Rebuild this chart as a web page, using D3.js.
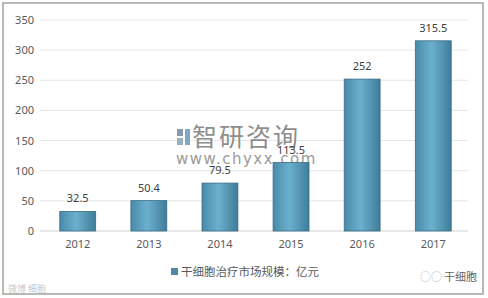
<!DOCTYPE html>
<html><head><meta charset="utf-8">
<script src="https://cdn.jsdelivr.net/npm/d3@7"></script>
<style>
body{margin:0;background:#fff;}
svg{display:block;font-family:"Noto Sans CJK SC","DejaVu Sans",sans-serif;}
</style></head>
<body>
<svg id="c" width="488" height="298"></svg>
<script>
const years = ["2012","2013","2014","2015","2016","2017"];
const values = [32.5, 50.4, 79.5, 113.5, 252, 315.5];
const valueLabels = ["32.5","50.4","79.5","113.5","252","315.5"];
const yTicks = [0,50,100,150,200,250,300,350];
const legendLabel = "干细胞治疗市场规模：亿元";

const svg = d3.select("#c");
const defs = svg.append("defs");
const g1 = defs.append("linearGradient").attr("id","bar").attr("x1","0").attr("x2","1").attr("y1","0").attr("y2","0");
g1.append("stop").attr("offset","0").attr("stop-color","#4a8aa8");
g1.append("stop").attr("offset","0.45").attr("stop-color","#6bb0cf");
g1.append("stop").attr("offset","1").attr("stop-color","#3f7d99");

// outer frame
svg.append("rect").attr("x",3).attr("y",3).attr("width",480).attr("height",291)
  .attr("fill","#fff").attr("stroke","#b8b8b8").attr("stroke-width",2);

const x = d3.scaleBand().domain(years).range([42,469]).paddingInner(0.495).paddingOuter(0.25);
const y = d3.scaleLinear().domain([0,350]).range([231,20]);

// gridlines
svg.append("g").selectAll("line").data(yTicks).join("line")
  .attr("x1",40).attr("x2",468)
  .attr("y1",d=>y(d)).attr("y2",d=>y(d))
  .attr("stroke",d=>d===0?"#d0d0d0":"#e6e6e6").attr("stroke-width",1);

// y axis
const ya = svg.append("g").attr("transform","translate(34,0)")
  .call(d3.axisLeft(y).tickValues(yTicks).tickSize(0).tickPadding(0));
ya.select(".domain").remove();
ya.selectAll("text").attr("font-size",11).attr("fill","#595959").attr("font-family","'Noto Sans',sans-serif");

// x axis
const xa = svg.append("g").attr("transform","translate(0,238)")
  .call(d3.axisBottom(x).tickSize(0).tickPadding(2));
xa.select(".domain").remove();
xa.selectAll("text").attr("font-size",11).attr("fill","#595959").attr("font-family","'Noto Sans',sans-serif");

// watermark (behind labels)
const wm = svg.append("g");
wm.append("rect").attr("x",177).attr("y",129).attr("width",6).attr("height",7).attr("fill","#8a9aa6");
wm.append("rect").attr("x",177).attr("y",138).attr("width",6).attr("height",7).attr("fill","#9ab0c0");
wm.append("rect").attr("x",185).attr("y",129).attr("width",5).attr("height",16).attr("fill","#7fa8c4");
wm.append("text").attr("x",192).attr("y",146).attr("font-size",25).attr("fill","#7a7a7a").attr("opacity",0.85)
  .attr("letter-spacing",2).text("智研咨询");
wm.append("text").attr("x",176).attr("y",164).attr("font-size",15).attr("fill","#8a8a8a").attr("opacity",0.85)
  .attr("font-family","'DejaVu Sans',sans-serif").attr("letter-spacing",1.5).text("www.chyxx.com");

// bars
svg.append("g").selectAll("rect").data(values).join("rect")
  .attr("x",(d,i)=>x(years[i])).attr("width",x.bandwidth())
  .attr("y",d=>y(d)).attr("height",d=>y(0)-y(d))
  .attr("fill","url(#bar)").attr("stroke","#3a6d86").attr("stroke-width",0.8);

// value labels
svg.append("g").selectAll("text").data(values).join("text")
  .attr("x",(d,i)=>x(years[i])+x.bandwidth()/2).attr("y",d=>y(d)-9)
  .attr("text-anchor","middle").attr("font-size",11).attr("fill","#404040")
  .attr("font-family","'Noto Sans',sans-serif")
  .text((d,i)=>valueLabels[i]);

// legend
svg.append("rect").attr("x",171).attr("y",268).attr("width",7).attr("height",7).attr("fill","#4e8aa6");
svg.append("text").attr("x",181).attr("y",276).attr("font-size",11.5).attr("fill","#595959").text(legendLabel);

// corner watermarks
svg.append("text").attr("x",420).attr("y",281).attr("font-size",11).attr("fill","#aaa").text("◌◌");
svg.append("text").attr("x",444).attr("y",281).attr("font-size",11).attr("fill","#666").text("干细胞");
svg.append("text").attr("x",8).attr("y",292).attr("font-size",9).attr("fill","#c8c8c8").text("微博 细胞");
</script>
</body></html>
